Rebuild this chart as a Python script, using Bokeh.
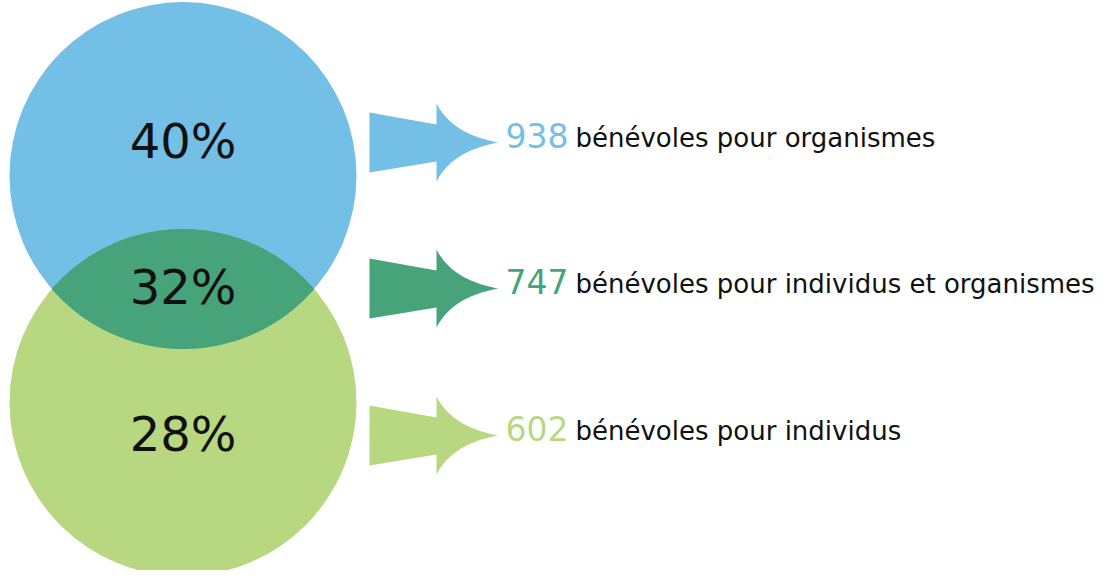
import numpy as np
from bokeh.plotting import figure
from bokeh.models import Range1d, ColumnDataSource
from bokeh.core.properties import value
from bokeh.embed import file_html
from bokeh.resources import INLINE

# ---- data ----
shares = ["40%", "32%", "28%"]
counts = ["938", "747", "602"]
labels = ["bénévoles pour organismes",
          "bénévoles pour individus et organismes",
          "bénévoles pour individus"]
colors = ["#74BFE5", "#46A37A", "#B7D881"]

# ---- layout (pixel space) ----
W, H = 1095, 570
Y0 = 6                            # vertical offset so that both circles fit
FONT = "DejaVu Sans"
cx = 182.5
r = 173.5
cy_top, cy_bot = 181.0, 408.0
row_y = [148, 294, 441]          # arrow tips / row centres
tip_x = 498
num_x = 505
desc_x = 575

p = figure(width=W, height=H, output_backend="svg", toolbar_location=None,
           x_range=Range1d(0, W), y_range=Range1d(H + Y0, Y0),
           x_axis_location=None, y_axis_location=None, min_border=0,
           background_fill_color="white", border_fill_color="white")
p.grid.visible = False
p.outline_line_color = None

# circles
p.circle(x=[cx], y=[cy_bot], radius=r, fill_color=colors[2], line_color=None)
p.circle(x=[cx], y=[cy_top], radius=r, fill_color=colors[0], line_color=None)

# lens (intersection) computed from the two circles
d = cy_bot - cy_top
a = d / 2.0
h = np.sqrt(r * r - a * a)
t0 = np.arctan2(a, h)
t1 = np.arctan2(a, -h)
th_b = np.linspace(t0, t1, 120)
th_g = np.linspace(-t1, -t0, 120)
lx = np.concatenate([cx + r * np.cos(th_b), cx + r * np.cos(th_g)])
ly = np.concatenate([cy_top + r * np.sin(th_b), cy_bot + r * np.sin(th_g)])
p.patch(lx, ly, fill_color=colors[1], line_color=None)

# arrows
def bez(p0, c, p1, n=30):
    t = np.linspace(0, 1, n)
    x = (1 - t) ** 2 * p0[0] + 2 * (1 - t) * t * c[0] + t ** 2 * p1[0]
    y = (1 - t) ** 2 * p0[1] + 2 * (1 - t) * t * c[1] + t ** 2 * p1[1]
    return list(x), list(y)

xs, ys = [], []
for ty in row_y:
    bx0, bx1, hx = 369, 436, 436
    x1, y1 = bez((hx, ty - 39), (452, ty - 8), (tip_x, ty))
    x2, y2 = bez((tip_x, ty), (452, ty + 8), (hx, ty + 39))
    ax = [bx0, bx1, hx] + x1 + x2[1:] + [hx, bx1, bx0]
    ay = [ty - 30, ty - 18, ty - 39] + y1 + y2[1:] + [ty + 39, ty + 19, ty + 30]
    xs.append(ax)
    ys.append(ay)
p.patches(xs, ys, fill_color=colors, line_color=None)

# percentage labels
p.text(x=[cx] * 3, y=[ty - 2 for ty in row_y], text=shares,
       text_font=value(FONT), text_font_size="48px", text_color="#111111",
       text_align="center", text_baseline="alphabetic")

# counts
src = ColumnDataSource(dict(x=[num_x] * 3, y=[ty - 7 for ty in row_y],
                            t=counts, c=colors))
p.text(x="x", y="y", text="t", text_color="c", source=src,
       text_font=value(FONT), text_font_size="33px",
       text_align="left", text_baseline="alphabetic")

# descriptions
p.text(x=[desc_x] * 3, y=[ty - 5 for ty in row_y], text=labels,
       text_font=value(FONT), text_font_size="26px", text_color="#111111",
       text_align="left", text_baseline="alphabetic")

open("out.html", "w").write(file_html(p, INLINE))
